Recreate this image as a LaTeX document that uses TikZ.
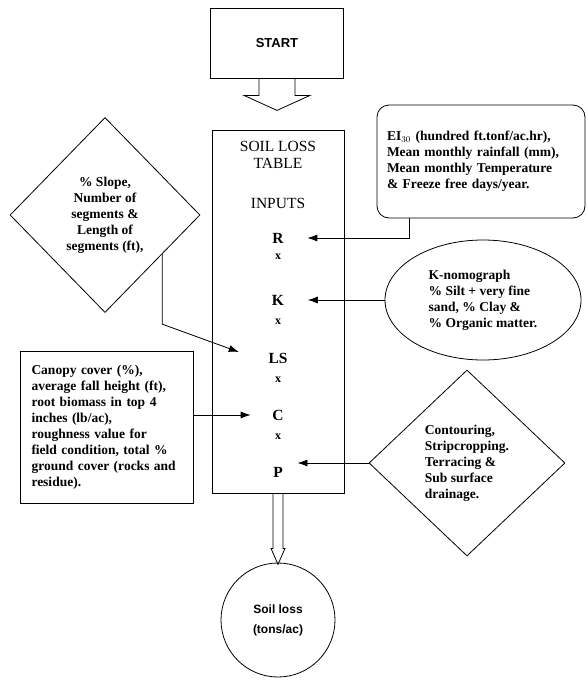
\documentclass[tikz,border=0pt]{standalone}
\usepackage{fontspec}
\setmainfont{Liberation Serif}
\setsansfont{Liberation Sans}
\usepackage{tikz}
\usetikzlibrary{calc,positioning,shapes.geometric,arrows.meta}
\newcommand{\colX}{278}
\newcommand{\inputNames}{r/R/238, k/K/300, ls/LS/358, c/C/415, p/P/472}
\newcommand{\timesSigns}{1/257, 2/322, 3/380, 4/437}
\newcommand{\inFont}{\fontsize{13.5}{16}\selectfont\bfseries}
\newcommand{\titleFont}{\fontsize{15.5}{17}\selectfont}
\tikzset{
	inbox/.style={draw, align=left, font=\inFont},
	factor/.style={font=\titleFont\bfseries},
	timessign/.style={font=\fontsize{12}{12}\selectfont\bfseries},
	arr/.style={-{Latex[length=10pt,width=7pt]}}
}

\begin{document}
\begin{tikzpicture}[x=1pt,y=-1pt,line width=0.8pt]
		\useasboundingbox (0,0) rectangle (587,683);
		
		\node[draw, font=\fontsize{13}{15}\selectfont\sffamily\bfseries, minimum width=133pt, minimum height=70pt] (start) at (277,43) {START};
		\draw (start.south) ++(-18,0) -- ++(0,17) -- ++(-15,0) -- ++(33,15) -- ++(33,-15) -- ++(-15,0) -- ++(0,-17);
		
		\node[draw, minimum width=132pt, minimum height=363pt] (table) at (278,311.5) {};
		\node[font=\titleFont, align=center] (title) at (\colX,155) {SOIL LOSS\\TABLE};
		\node[font=\titleFont] (inputs) at (\colX,203) {INPUTS};
		\foreach \nm/\txt/\yy in \inputNames
		{
			\node[factor] (\nm) at (\colX,\yy) {\txt};
		}
		\foreach \i/\yy in \timesSigns
		{
			\node[timessign] (x\i) at (\colX,\yy) {x};
		}
		
		\node[inbox, rounded corners=12pt, minimum width=208pt, minimum height=113pt, text width=188pt] (erosivity) at (481,161.5) {EI$_{30}$ (hundred ft.tonf/ac.hr),\\Mean monthly rainfall (mm),\\Mean monthly Temperature\\\& Freeze free days/year.};
		\node[inbox, ellipse, minimum width=196pt, minimum height=120pt, inner sep=0pt] (knomo) at (483,300) {K-nomograph\\\% Silt + very fine\\sand, \% Clay \&\\\% Organic matter.};
		\node[inbox, diamond, align=center, minimum width=190pt, minimum height=195pt, inner sep=0pt] (slope) at (105,215) {\% Slope,\\Number of\\segments \&\\Length of\\segments (ft),};
		\node[inbox, minimum width=173pt, minimum height=152pt, text width=150pt] (canopy) at (106.5,427) {Canopy cover (\%),\\average fall height (ft),\\root biomass in top 4\\inches (lb/ac),\\roughness value for\\field condition, total \%\\ground cover (rocks and\\residue).};
		\node[inbox, diamond, minimum width=196pt, minimum height=186pt, inner sep=0pt] (practice) at (467,463) {Contouring,\\Stripcropping.\\Terracing \&\\Sub surface\\drainage.};
		
		\node[draw, circle, minimum size=114pt, align=center, font=\fontsize{12}{20}\selectfont\sffamily\bfseries] (soilloss) at (278,620) {Soil loss\\(tons/ac)};
		\draw (table.south) ++(-5,0) -- ++(0,55) -- ++(-2,0) -- ++(7,16) -- ++(7,-16) -- ++(-2,0) -- ++(0,-55);
		
		\draw[arr, shorten >=20pt] ($(erosivity.south west)+(33,0)$) |- (r);
		\draw[arr, shorten >=20pt] (knomo.west) -- (knomo.west -| k.east);
		\draw[arr] ($(slope.east)!0.4!(slope.south)$) -- ++(0,70) -- ([xshift=-26pt,yshift=6pt]ls.west);
		\draw[arr, shorten >=18pt] (canopy.east |- c) -- (c);
		\draw[arr, shorten >=11pt] (practice.west) -- (practice.west -| p.east);
	\end{tikzpicture}
\end{document}
